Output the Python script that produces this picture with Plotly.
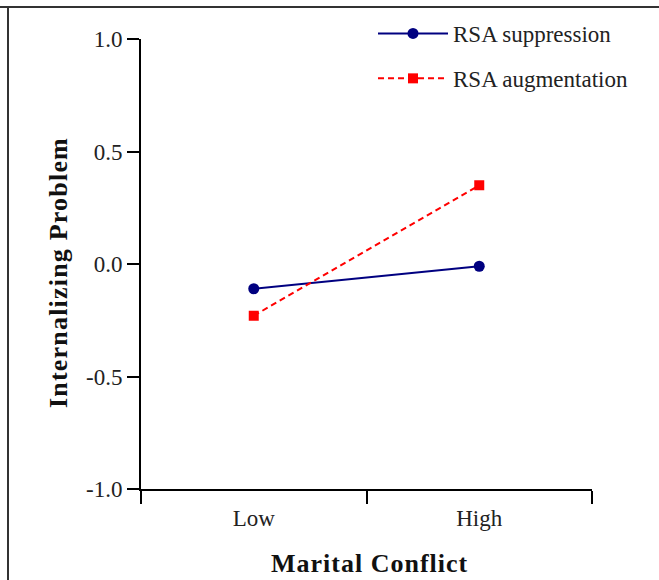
import plotly.graph_objects as go

categories = ["Low", "High"]
suppression = [-0.11, -0.01]
augmentation = [-0.23, 0.35]
y_ticks = [-1.0, -0.5, 0.0, 0.5, 1.0]
y_tick_labels = ["-1.0", "-0.5", "0.0", "0.5", "1.0"]
x_title = "Marital Conflict"
y_title = "Internalizing Problem"

FONT = "Liberation Serif"

fig = go.Figure()
fig.add_trace(go.Scatter(
    x=categories, y=suppression, name="RSA suppression", legendgroup="s",
    mode="lines+markers",
    line=dict(color="#000080", width=2),
    marker=dict(symbol="circle", size=11, color="#000080"),
))
fig.add_trace(go.Scatter(
    x=categories, y=augmentation, name="RSA augmentation", legendgroup="a",
    mode="lines+markers",
    line=dict(color="#ff0000", width=2, dash="6px,4px"),
    marker=dict(symbol="square", size=10, color="#ff0000"),
))

fig.update_layout(
    width=659, height=580,
    margin=dict(l=141, r=67, t=39, b=91, autoexpand=False),
    paper_bgcolor="white", plot_bgcolor="white",
    font=dict(family=FONT, size=23, color="#222"),
    showlegend=True,
    legend=dict(
        x=373 / 659, xref="container", y=1 - 12 / 580, yref="container",
        xanchor="left", yanchor="top",
        bgcolor="rgba(0,0,0,0)", font=dict(family=FONT, size=23, color="#222"),
        itemwidth=70, tracegroupgap=12,
    ),
    xaxis=dict(
        type="category", categoryorder="array", categoryarray=categories,
        range=[-0.5, 1.5], tickson="boundaries",
        showline=True, linecolor="black", linewidth=2,
        ticks="outside", ticklen=13, tickwidth=2, tickcolor="black",
        ticklabelstandoff=7,
        showgrid=False, zeroline=False,
        tickfont=dict(family=FONT, size=23, color="#222"),
    ),
    yaxis=dict(
        range=[-1.0, 1.0], tickvals=y_ticks, ticktext=y_tick_labels,
        showline=True, linecolor="black", linewidth=2,
        ticks="outside", ticklen=12, tickwidth=2, tickcolor="black",
        showgrid=False, zeroline=False,
        tickfont=dict(family=FONT, size=23, color="#222"),
    ),
    annotations=[
        dict(text='<span style="letter-spacing:1px">' + x_title + '</span>',
             xref="paper", yref="paper", x=(369 - 141) / 451, y=-(563 - 489) / 450,
             xanchor="center", yanchor="middle", showarrow=False, borderpad=0,
             font=dict(family=FONT, size=26, color="#111", weight="bold")),
        dict(text='<span style="letter-spacing:1.2px">' + y_title + '</span>', textangle=-90,
             xref="paper", yref="paper", x=-(141 - 58) / 451, y=(489 - 273) / 450,
             xanchor="center", yanchor="middle", showarrow=False,
             font=dict(family=FONT, size=26, color="#111", weight="bold")),
    ],
    shapes=[
        dict(type="line", xref="paper", yref="paper", x0=-141/451, x1=(659-141)/451,
             y0=1 + 32/450, y1=1 + 32/450, line=dict(color="#333", width=2)),
        dict(type="line", xref="paper", yref="paper", x0=-133/451, x1=-133/451,
             y0=1 + 32/450, y1=-91/450, line=dict(color="#333", width=2)),
    ],
)

fig.write_html("out.html")
